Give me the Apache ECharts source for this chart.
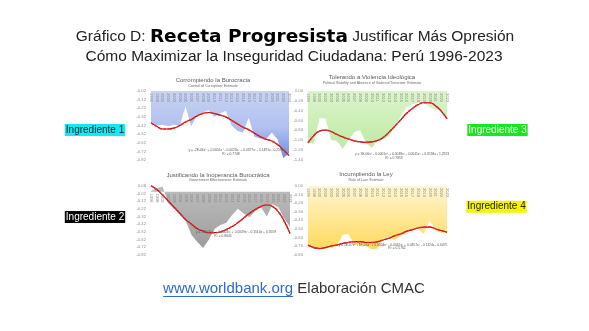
<!DOCTYPE html>
<html>
<head>
<meta charset="utf-8">
<script src="https://cdn.jsdelivr.net/npm/echarts/dist/echarts.min.js"></script>
<style>
  html, body { margin: 0; padding: 0; background: #ffffff; }
  #c { width: 589px; height: 331px; }
</style>
</head>
<body>
<div id="c"></div>
<script>
// World Bank governance estimates for Perú (WGI), 1996-2023
const years = ['1996','1998','2000','2002','2003','2004','2005','2006','2007','2008','2009','2010',
               '2011','2012','2013','2014','2015','2016','2017','2018','2019','2020','2021','2022','2023'];

// Control of Corruption: Estimate
const corrupcion = [-0.40,-0.42,-0.41,-0.43,-0.41,-0.42,-0.20,-0.43,-0.30,-0.27,-0.24,-0.32,
                    -0.28,-0.25,-0.42,-0.48,-0.50,-0.33,-0.55,-0.57,-0.58,-0.50,-0.58,-0.80,-0.74];
const trendCorrupcion = [-0.39,-0.43,-0.46,-0.46,-0.45,-0.42,-0.38,-0.35,-0.31,-0.28,-0.27,-0.28,
                         -0.30,-0.32,-0.36,-0.40,-0.44,-0.47,-0.51,-0.55,-0.58,-0.60,-0.64,-0.70,-0.77];

// Political Stability and Absence of Violence/Terrorism: Estimate
const violencia = [-1.06,-1.08,-0.55,-0.56,-1.00,-1.02,-1.18,-1.00,-0.84,-0.80,-1.05,-1.16,
                   -1.02,-0.98,-0.92,-0.72,-0.52,-0.33,-0.27,-0.25,-0.22,-0.33,-0.38,-0.40,-0.56];
const trendViolencia = [-1.06,-0.91,-0.82,-0.80,-0.83,-0.89,-0.94,-0.98,-1.02,-1.04,-1.05,-1.04,
                        -1.01,-0.95,-0.84,-0.72,-0.59,-0.46,-0.36,-0.28,-0.24,-0.24,-0.30,-0.41,-0.57];

// Government Effectiveness: Estimate
const efectividad = [0.01,0.05,0.07,-0.15,-0.22,-0.30,-0.38,-0.56,-0.65,-0.73,-0.62,-0.48,
                     -0.43,-0.40,-0.30,-0.22,-0.28,-0.33,-0.25,-0.20,-0.32,-0.16,-0.20,-0.35,-0.45];
const trendEfectividad = [0.08,0.03,-0.04,-0.12,-0.20,-0.28,-0.36,-0.42,-0.48,-0.51,-0.53,-0.53,
                          -0.52,-0.49,-0.45,-0.40,-0.34,-0.28,-0.23,-0.19,-0.17,-0.19,-0.26,-0.38,-0.54];

// Rule of Law: Estimate
const ley = [-0.69,-0.73,-0.74,-0.73,-0.72,-0.70,-0.57,-0.56,-0.69,-0.69,-0.70,-0.74,
             -0.73,-0.61,-0.60,-0.63,-0.58,-0.55,-0.51,-0.50,-0.56,-0.40,-0.52,-0.55,-0.54];
const trendLey = [-0.69,-0.72,-0.73,-0.72,-0.70,-0.69,-0.67,-0.66,-0.65,-0.65,-0.66,-0.66,
                  -0.65,-0.63,-0.61,-0.58,-0.56,-0.53,-0.51,-0.49,-0.48,-0.48,-0.50,-0.52,-0.54];

const titulos = ['Corrompiendo la Burocracia', 'Tolerando a Violencia Ideológica',
                 'Justificando la Inoperancia Burocrática', 'Incumpliendo la Ley'];
const subtitulos = ['Control of Corruption: Estimate',
                    'Political Stability and Absence of Violence/Terrorism: Estimate',
                    'Government Effectiveness: Estimate', 'Rule of Law: Estimate'];
const ecuaciones = ['y = -2E-06x⁵ + 0.0001x⁴ - 0.0023x³ + 0.0377x² - 0.1491x - 0.2595',
                    'y = 1E-06x⁵ - 0.0001x⁴ + 0.0048x³ - 0.0641x² + 0.3158x - 1.2923',
                    'y = -1E-05x⁴ + 0.0003x³ + 0.0049x² - 0.1514x + 0.3559',
                    'y = 1E-07x⁶ - 1E-05x⁵ + 0.0004x⁴ - 0.0062x³ + 0.0457x² - 0.1324x - 0.6075'];
const r2 = ['R² = 0.7748', 'R² = 0.7853', 'R² = 0.8645', 'R² = 0.5762'];
const ingredientes = ['Ingrediente 1', 'Ingrediente 2', 'Ingrediente 3', 'Ingrediente 4'];

function grad(stops) {
  return { type: 'linear', x: 0, y: 0, x2: 0, y2: 1,
           colorStops: stops.map(s => ({ offset: s[0], color: s[1] })) };
}

// Layout of the four small panels
const panels = [
  { grid: { left: 151, top: 91, width: 138, height: 69 }, min: -0.82, max: -0.02, step: 0.1,
    values: corrupcion, trend: trendCorrupcion, origin: 'end', labelMargin: 2,
    fill: grad([[0, '#c8d3f3'], [0.55, '#b0c0f0'], [1, '#6f8fe0']]),
    title: [213, 80.5], eq: [236, 150], r2: [231, 153.6] },
  { grid: { left: 308, top: 91, width: 139, height: 68.5 }, min: -1.4, max: 0, step: 0.2,
    values: violencia, trend: trendViolencia, origin: 'auto', labelMargin: 2,
    fill: grad([[0, '#dbf5cb'], [1, '#bfe9a5']]),
    title: [372, 77.5], eq: [402, 154.3], r2: [394, 157.6] },
  { grid: { left: 151, top: 185.7, width: 139, height: 69.3 }, min: -0.82, max: 0.08, step: 0.1,
    values: efectividad, trend: trendEfectividad, origin: 'auto', labelMargin: 8,
    fill: grad([[0, '#bdbdbd'], [1, '#9d9d9d']]),
    title: [218, 175], eq: [236, 231.7], r2: [223, 235.6] },
  { grid: { left: 308, top: 186, width: 139, height: 68.5 }, min: -0.8, max: 0, step: 0.1,
    values: ley, trend: trendLey, origin: 'auto', labelMargin: 2,
    fill: grad([[0, '#fff6d2'], [1, '#ffd95c']]),
    title: [366, 174.5], eq: [393, 245], r2: [397, 248.5] }
];

const series = [];
panels.forEach((p, i) => {
  series.push({
    type: 'line', xAxisIndex: i, yAxisIndex: i, data: p.values, symbol: 'none', silent: true,
    lineStyle: { width: 0 }, areaStyle: { origin: p.origin, color: p.fill, opacity: 1 }, z: 2
  });
  series.push({
    type: 'line', xAxisIndex: i, yAxisIndex: i, data: p.trend, symbol: 'none', smooth: true,
    silent: true, lineStyle: { color: '#7d1616', width: 1.1 }, z: 5
  });
  series.push({
    type: 'line', xAxisIndex: i, yAxisIndex: i, data: p.trend, symbol: 'none', smooth: true,
    silent: true, lineStyle: { color: '#ff2424', width: 1.5, type: [3, 1.6] }, z: 6
  });
});

const FONT = '"Liberation Sans", Arial, sans-serif';

function txt(x, y, text, size, color, extra) {
  return {
    type: 'text', x: x, y: y, silent: true, z: 10,
    style: Object.assign({
      text: text, fill: color, fontSize: size, fontFamily: FONT,
      align: 'center', verticalAlign: 'middle', textAlign: 'center', textVerticalAlign: 'middle'
    }, extra || {})
  };
}

const graphics = [];
// Page heading
graphics.push({
  type: 'text', x: 295, y: 37, silent: true,
  style: {
    text: '{a|Gráfico D: }{b|Receta Progresista}{a| Justificar Más Opresión}',
    align: 'center', verticalAlign: 'middle', textAlign: 'center', textVerticalAlign: 'middle',
    rich: {
      a: { fontSize: 15.5, fontFamily: FONT, fill: '#222222', color: '#222222' },
      b: { fontSize: 18.5, fontFamily: '"DejaVu Sans", sans-serif', fontWeight: 900, fill: '#000000', color: '#000000' }
    }
  }
});
graphics.push(txt(294, 56.5, 'Cómo Maximizar la Inseguridad Ciudadana: Perú 1996-2023', 15.5, '#222222'));

// Panel titles, subtitles and trend equations
panels.forEach((p, i) => {
  graphics.push(txt(p.title[0], p.title[1], titulos[i], 6, '#595959'));
  graphics.push(txt(p.title[0], p.title[1] + 5, subtitulos[i], 3.6, '#6a6a6a'));
  graphics.push(txt(p.eq[0], p.eq[1], ecuaciones[i], 3.3, '#595959'));
  graphics.push(txt(p.r2[0], p.r2[1], r2[i], 3.3, '#595959'));
});

// Side tags
const tagStyle = [
  { bg: '#14e9ef', fg: '#102030', x: 95, y: 130 },
  { bg: '#000000', fg: '#ffffff', x: 95, y: 217 },
  { bg: '#17e81c', fg: '#f4fff4', x: 497.5, y: 130 },
  { bg: '#f6f500', fg: '#222222', x: 496.5, y: 206.7 }
];
ingredientes.forEach((t, i) => {
  const s = tagStyle[i];
  graphics.push(txt(s.x, s.y, t, 10, s.fg, { backgroundColor: s.bg, padding: [1, 1, 1, 1] }));
});

// Source line with underlined link
const meas = document.createElement('canvas').getContext('2d');
meas.font = '15px "Liberation Sans", Arial, sans-serif';
const linkText = 'www.worldbank.org';
const restText = ' Elaboración CMAC';
const w1 = meas.measureText(linkText).width;
const w2 = meas.measureText(restText).width;
const x0 = 294 - (w1 + w2) / 2;
graphics.push(txt(x0, 289, linkText, 15, '#2f6bc9', { align: 'left', textAlign: 'left' }));
graphics.push(txt(x0 + w1, 289, restText, 15, '#333333', { align: 'left', textAlign: 'left' }));
graphics.push({
  type: 'line', silent: true, z: 10,
  shape: { x1: x0, y1: 296.5, x2: x0 + w1, y2: 296.5 },
  style: { stroke: '#2f6bc9', lineWidth: 1 }
});

const chart = echarts.init(document.getElementById('c'), null, { renderer: 'canvas' });
chart.setOption({
  backgroundColor: '#ffffff',
  animation: false,
  grid: panels.map(p => p.grid),
  xAxis: panels.map((p, i) => ({
    gridIndex: i, type: 'category', data: years, boundaryGap: false, position: 'top', z: 4,
    axisLine: { show: false, onZero: false }, axisTick: { show: false }, splitLine: { show: false },
    axisLabel: { interval: 0, rotate: 90, inside: true, fontSize: 4, color: '#858585',
                 margin: p.labelMargin, fontFamily: FONT }
  })),
  yAxis: panels.map((p, i) => ({
    gridIndex: i, type: 'value', min: p.min, max: p.max, interval: p.step,
    splitLine: { show: false }, axisLine: { show: false }, axisTick: { show: false },
    axisLabel: { fontSize: 4.2, color: '#8c8c8c', margin: 5, fontFamily: FONT,
                 formatter: v => (Math.abs(v) < 1e-9 ? 0 : v).toFixed(2) }
  })),
  series: series,
  graphic: graphics
});
</script>
</body>
</html>
